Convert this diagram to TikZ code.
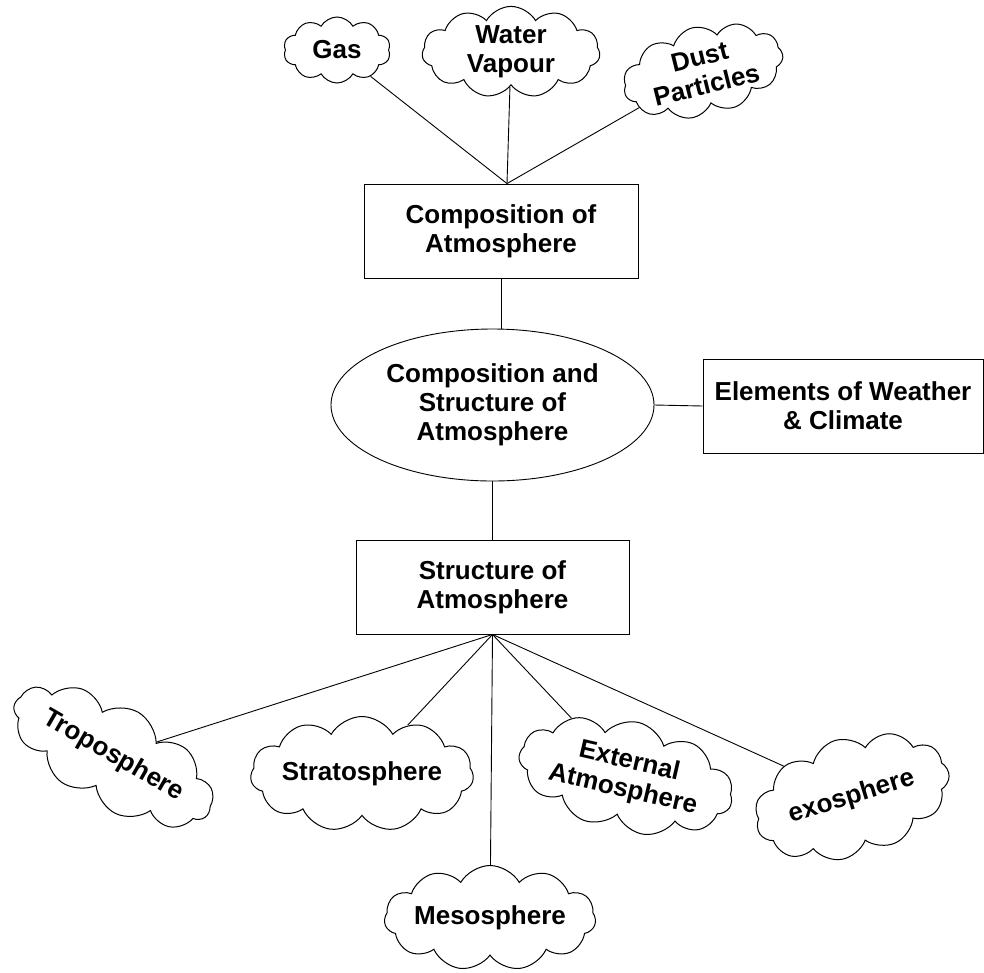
\documentclass[tikz,border=0pt]{standalone}
\usepackage{fontspec}
\setmainfont{Liberation Sans}
\usetikzlibrary{shapes.symbols,shapes.geometric,calc}
\begin{document}
\begin{tikzpicture}[x=1pt,y=-1pt,
  every node/.style={font=\fontsize{26}{29}\selectfont\bfseries, align=center, line width=0.9pt},
  boxnode/.style={draw, rectangle, inner sep=0pt},
  cloudnode/.style={draw, cloud, cloud ignores aspect, cloud puffs=11, cloud puff arc=120, inner sep=0pt, line width=1pt},
  link/.style={line width=0.9pt}]
\useasboundingbox (0,0) rectangle (984,972);
% boxes
\node[boxnode, minimum width=274pt, minimum height=94pt] (comp) at (501,231) {Composition of\\Atmosphere};
\node[draw, ellipse, inner sep=0pt, minimum width=323pt, minimum height=152pt] (ell) at (492.5,405) {Composition and\\Structure of\\Atmosphere};
\node[boxnode, minimum width=280pt, minimum height=94pt] (elem) at (843,406) {Elements of Weather\\\& Climate};
\node[boxnode, minimum width=273pt, minimum height=94pt] (struct) at (492.5,587) {Structure of\\Atmosphere};
% clouds top
\node[cloudnode, cloud puffs=10, minimum width=107pt, minimum height=66pt] (gas) at (337,50) {Gas};
\node[cloudnode, minimum width=178pt, minimum height=81pt] (water) at (511,52) {Water\\Vapour};
\node[cloudnode, minimum width=163pt, minimum height=69pt, rotate=14] (dust) at (703,71) {Dust\\Particles};
% clouds bottom
\node[cloudnode, minimum width=223pt, minimum height=101pt, rotate=-30] (tropo) at (113,756) {Troposphere};
\node[cloudnode, minimum width=213pt, minimum height=115pt] (strato) at (362,774) {Stratosphere};
\node[cloudnode, minimum width=207pt, minimum height=105pt] (meso) at (490,918) {Mesosphere};
\node[cloudnode, minimum width=217pt, minimum height=110pt, rotate=-13] (ext) at (626,776) {External\\Atmosphere};
\node[cloudnode, minimum width=200pt, minimum height=118pt, rotate=17] (exo) at (852,797) {exosphere};
% connectors
\coordinate (ctop) at ($(comp.north)+(6,0)$);
\draw[link] (gas) -- (ctop);
\draw[link] (water) -- (ctop);
\draw[link] (dust) -- (ctop);
\draw[link] (comp.south) -- (comp.south |- ell.north);
\draw[link] (ell.east) -- (elem.west);
\draw[link] (ell.south) -- (struct.north);
\draw[link] (struct.south) -- (tropo);
\draw[link] (struct.south) -- (strato);
\draw[link] (struct.south) -- (meso);
\draw[link] (struct.south) -- (ext);
\draw[link] (struct.south) -- (exo);
\end{tikzpicture}
\end{document}
